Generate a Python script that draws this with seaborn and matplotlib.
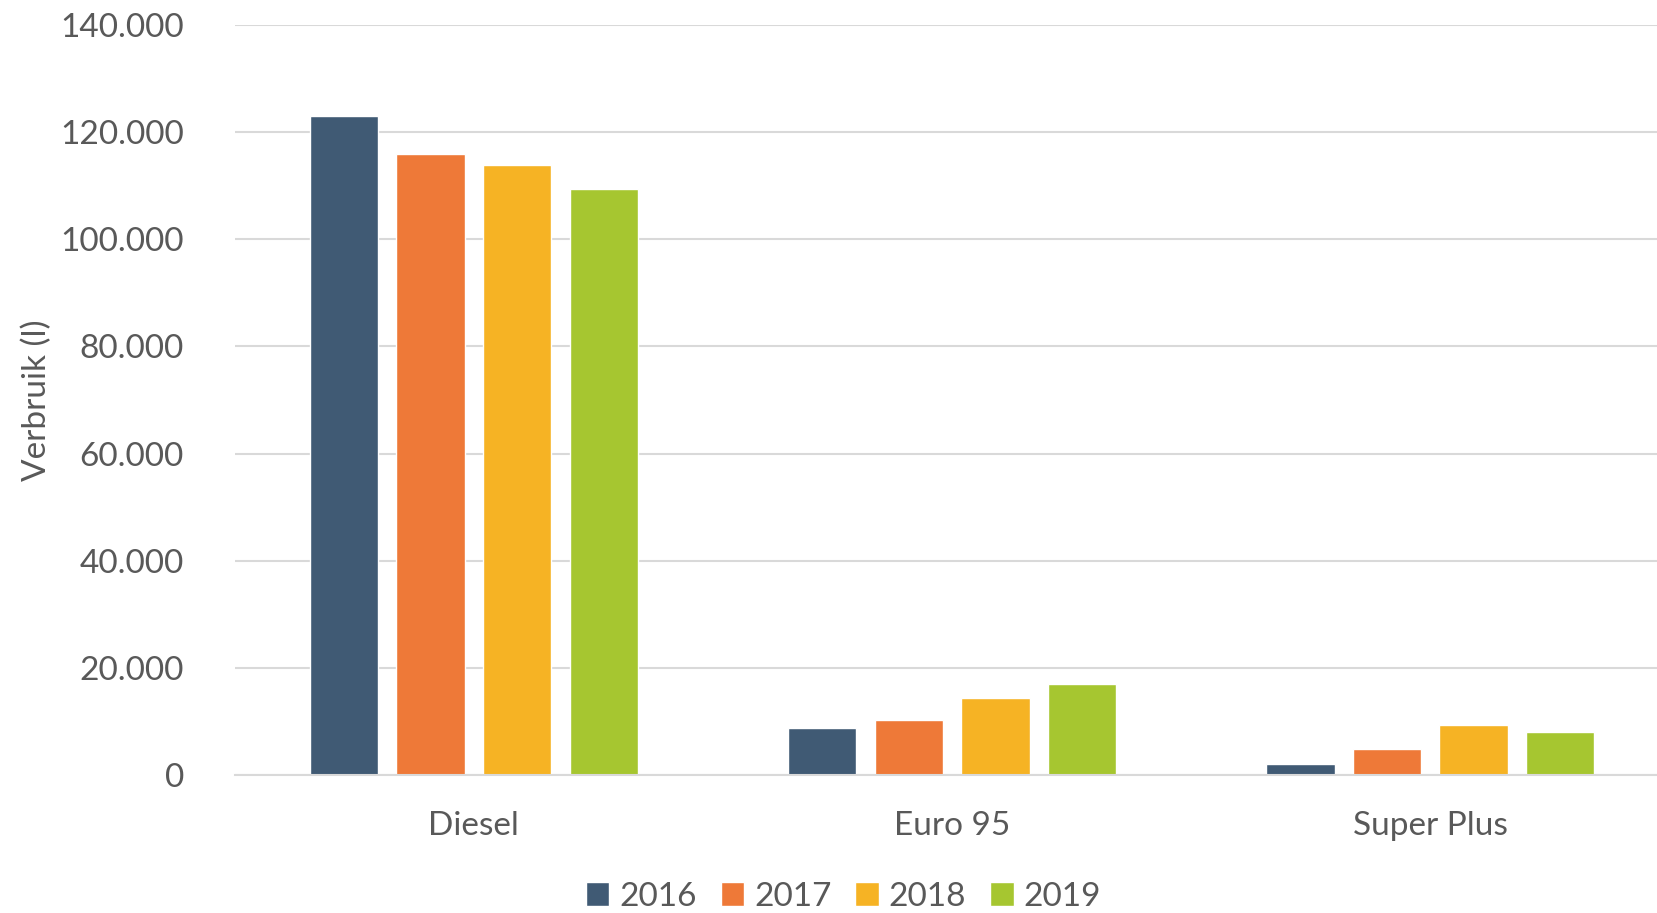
import numpy as np
import pandas as pd
import matplotlib
matplotlib.use("Agg")
import matplotlib.pyplot as plt
import seaborn as sns
from matplotlib.ticker import FuncFormatter

# fuel types and yearly consumption (litres)
brandstof = ["Diesel", "Euro 95", "Super Plus"]
jaren = ["2016", "2017", "2018", "2019"]
v2016 = [122900, 8700, 2050]
v2017 = [115900, 10350, 4850]
v2018 = [113750, 14300, 9280]
v2019 = [109350, 17000, 7970]
kleuren = ["#405a74", "#ee7938", "#f6b324", "#a6c630"]

df = pd.DataFrame({
    "Brandstof": brandstof * 4,
    "Jaar": [j for j in jaren for _ in brandstof],
    "Verbruik": v2016 + v2017 + v2018 + v2019,
})

sns.set_theme(style="white")
plt.rcParams["font.family"] = ["Lato", "DejaVu Sans"]
tekst = "#595959"

fig, ax = plt.subplots(figsize=(16.57, 9.13), dpi=100)
fig.subplots_adjust(left=0.142, right=1.0, top=0.973, bottom=0.151)

sns.barplot(data=df, x="Brandstof", y="Verbruik", hue="Jaar", palette=kleuren,
            width=0.724, gap=0.21, ax=ax, saturation=1, legend=True)

ax.set_ylim(0, 140000)
ax.set_yticks(range(0, 140001, 20000))
ax.yaxis.set_major_formatter(FuncFormatter(lambda v, p: f"{int(v):,}".replace(",", ".")))
ax.set_xlim(-0.499, 2.474)
ax.grid(axis="y", color="#d9d9d9", lw=1.5)
ax.set_axisbelow(True)
for s in ["top", "right", "left"]:
    ax.spines[s].set_visible(False)
ax.spines["bottom"].set_color("#d9d9d9")
ax.spines["bottom"].set_linewidth(1.5)

ax.tick_params(axis="y", length=0, pad=37, labelsize=24, labelcolor=tekst)
ax.tick_params(axis="x", length=0, pad=26, labelsize=24, labelcolor=tekst)
ax.set_xlabel("")
ax.set_ylabel("Verbruik (l)", fontsize=24, color=tekst)
ax.yaxis.set_label_coords(-0.129, 0.5)

ax.get_legend().remove()
handles, labels = ax.get_legend_handles_labels()
fig.legend(handles, labels, loc="center", bbox_to_anchor=(0.509, 0.018), ncol=4,
           frameon=False, fontsize=24, labelcolor=tekst, handlelength=0.7,
           handleheight=0.7, handletextpad=0.3, columnspacing=0.72)

fig.savefig("out.png", dpi=100)
